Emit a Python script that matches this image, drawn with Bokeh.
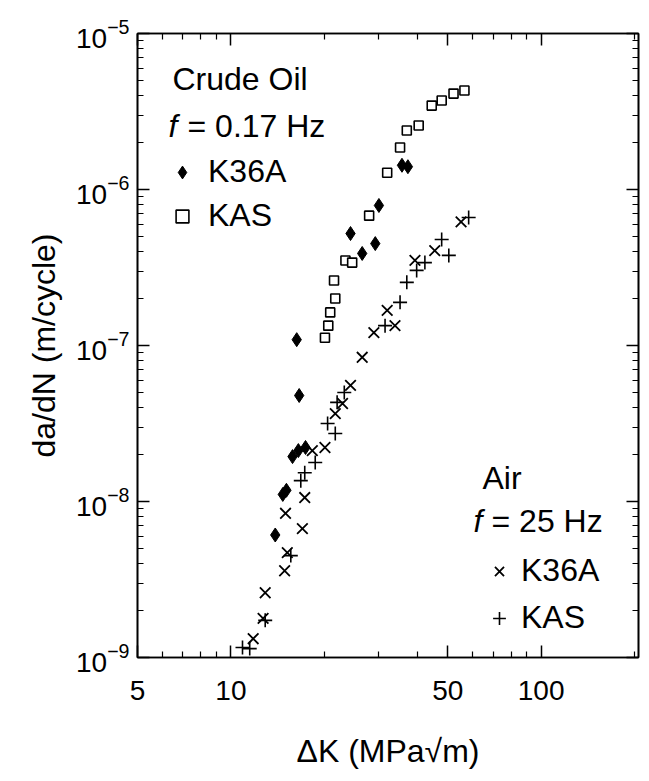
from bokeh.plotting import figure
from bokeh.models import (FixedTicker, LogAxis, Label, Legend, LegendItem,
                          PrintfTickFormatter)
from bokeh.embed import file_html
from bokeh.resources import INLINE

# Crack growth rate da/dN (m/cycle) against stress intensity range dK (MPa sqrt m)

# Crude oil, f = 0.17 Hz
oil_k36a_dk = [13.9, 14.7, 15.1, 15.8, 16.5, 17.4, 16.6, 16.3, 24.3, 26.5,
               29.2, 30.0, 35.6, 37.2]
oil_k36a_dadn = [6.1e-9, 1.11e-8, 1.18e-8, 1.94e-8, 2.12e-8, 2.22e-8, 4.78e-8,
                 1.09e-7, 5.22e-7, 3.89e-7, 4.5e-7, 7.9e-7, 1.43e-6, 1.40e-6]

oil_kas_dk = [20.1, 20.6, 20.9, 21.7, 21.5, 23.4, 24.6, 27.9, 31.9, 35.1,
              36.9, 40.3, 44.4, 47.8, 52.2, 56.6]
oil_kas_dadn = [1.12e-7, 1.34e-7, 1.63e-7, 2.0e-7, 2.61e-7, 3.51e-7, 3.40e-7,
                6.8e-7, 1.28e-6, 1.86e-6, 2.39e-6, 2.57e-6, 3.45e-6, 3.72e-6,
                4.12e-6, 4.31e-6]

# Air, f = 25 Hz
air_k36a_dk = [11.8, 12.7, 12.9, 14.9, 15.2, 17.0, 15.0, 17.3, 18.3, 20.1,
               21.7, 22.9, 24.3, 26.5, 28.9, 33.8, 31.9, 39.2, 45.4, 55.2]
air_k36a_dadn = [1.32e-9, 1.78e-9, 2.6e-9, 3.6e-9, 4.7e-9, 6.7e-9, 8.4e-9,
                 1.06e-8, 2.12e-8, 2.22e-8, 3.66e-8, 4.25e-8, 5.55e-8, 8.4e-8,
                 1.21e-7, 1.34e-7, 1.68e-7, 3.51e-7, 4.06e-7, 6.2e-7]

air_kas_dk = [10.9, 11.5, 12.9, 15.6, 16.8, 17.3, 18.7, 21.7, 20.5, 22.0,
              23.2, 31.4, 35.1, 36.9, 39.7, 42.2, 50.4, 47.8, 58.4]
air_kas_dadn = [1.16e-9, 1.14e-9, 1.73e-9, 4.5e-9, 1.36e-8, 1.53e-8, 1.78e-8,
                2.73e-8, 3.16e-8, 4.32e-8, 5.0e-8, 1.34e-7, 1.89e-7, 2.54e-7,
                3.03e-7, 3.40e-7, 3.78e-7, 4.78e-7, 6.62e-7]

# Axis ticks
x_major = [5, 10, 50, 100]
x_minor = [6, 7, 8, 9, 20, 30, 40, 60, 70, 80, 90, 200]
y_exponents = [-9, -8, -7, -6, -5]
y_major = [10.0 ** e for e in y_exponents]
y_minor = [m * 10.0 ** e for e in y_exponents[:-1] for m in range(2, 10)]

FONT = "Liberation Sans"
INK = "black"

p = figure(width=649, height=781, x_axis_type="log", y_axis_type="log",
           x_range=(5, 206), y_range=(1e-9, 1e-5),
           output_backend="svg", toolbar_location=None,
           min_border_left=137, min_border_right=11,
           min_border_top=33, min_border_bottom=124,
           background_fill_color="white", border_fill_color="white")
p.grid.visible = False
p.outline_line_color = INK
p.outline_line_width = 1.6


def style_axis(ax):
    ax.axis_line_color = INK
    ax.axis_line_width = 1.6
    ax.major_tick_line_color = INK
    ax.minor_tick_line_color = INK
    ax.major_tick_line_width = 1.5
    ax.minor_tick_line_width = 1.2
    ax.major_tick_in = 12
    ax.major_tick_out = 0
    ax.minor_tick_in = 6
    ax.minor_tick_out = 0


p.xaxis.ticker = FixedTicker(ticks=x_major, minor_ticks=x_minor)
p.yaxis.ticker = FixedTicker(ticks=y_major, minor_ticks=y_minor)
p.xaxis.formatter = PrintfTickFormatter(format="%d")
for ax in p.xaxis + p.yaxis:
    style_axis(ax)
    ax.major_label_text_font = FONT
    ax.major_label_text_font_size = "28px"
    ax.major_label_text_color = INK
    ax.axis_label_text_font = FONT
    ax.axis_label_text_font_size = "32px"
    ax.axis_label_text_font_style = "normal"
    ax.axis_label_text_color = INK
p.xaxis.major_label_standoff = 23
p.yaxis.major_label_standoff = 8

p.xaxis.axis_label = "ΔK (MPa√m)"
p.xaxis.axis_label_standoff = 30
p.yaxis.axis_label = "da/dN (m/cycle)"
p.yaxis.axis_label_standoff = 11

# mirrored tick marks on the top and right edges (no tick labels)
top_axis = LogAxis(ticker=FixedTicker(ticks=x_major, minor_ticks=x_minor),
                   major_label_text_color=None, major_label_text_font_size="1px",
                   major_label_standoff=0)
right_axis = LogAxis(ticker=FixedTicker(ticks=y_major, minor_ticks=y_minor),
                     major_label_text_color=None, major_label_text_font_size="1px",
                     major_label_standoff=0)
style_axis(top_axis)
style_axis(right_axis)
p.add_layout(top_axis, "above")
p.add_layout(right_axis, "right")

# data
r_oil_k36a = p.scatter(oil_k36a_dk, oil_k36a_dadn, marker="diamond", size=14,
                       fill_color=INK, line_color=INK)
r_oil_kas = p.scatter(oil_kas_dk, oil_kas_dadn, marker="square", size=9,
                      fill_color="white", line_color=INK, line_width=1.6)
r_air_k36a = p.scatter(air_k36a_dk, air_k36a_dadn, marker="x", size=15,
                       line_color=INK, line_width=1.8)
r_air_kas = p.scatter(air_kas_dk, air_kas_dadn, marker="cross", size=14,
                      line_color=INK, line_width=1.6)


def text_label(x, y, text, style="normal"):
    p.add_layout(Label(x=x, y=y, x_units="screen", y_units="screen",
                       text=text, text_align="left", text_baseline="middle",
                       text_font=FONT, text_font_size="32px",
                       text_font_style=style, text_color=INK))


text_label(35, 579, "Crude Oil")
text_label(31, 532, "f", "italic")
text_label(50, 532, "= 0.17 Hz")
text_label(345, 180, "Air")
text_label(336, 137, "f", "italic")
text_label(354, 137, "= 25 Hz")


def make_legend(items, x, y, standoff, spacing):
    # location is the lower-left corner of the legend box, in frame pixels
    leg = Legend(items=items, location=(x, y), padding=0, margin=0,
                 spacing=spacing, glyph_width=32, glyph_height=32,
                 label_standoff=standoff, label_text_font=FONT,
                 label_text_font_size="32px", label_text_color=INK,
                 background_fill_alpha=0, border_line_color=None)
    p.add_layout(leg)


make_legend([LegendItem(label="K36A", renderers=[r_oil_k36a]),
             LegendItem(label="KAS", renderers=[r_oil_kas])],
            29, 423, 10, 7)
make_legend([LegendItem(label="K36A", renderers=[r_air_k36a]),
             LegendItem(label="KAS", renderers=[r_air_kas])],
            346, 21, 6, 10)

open("out.html", "w").write(file_html(p, INLINE))
